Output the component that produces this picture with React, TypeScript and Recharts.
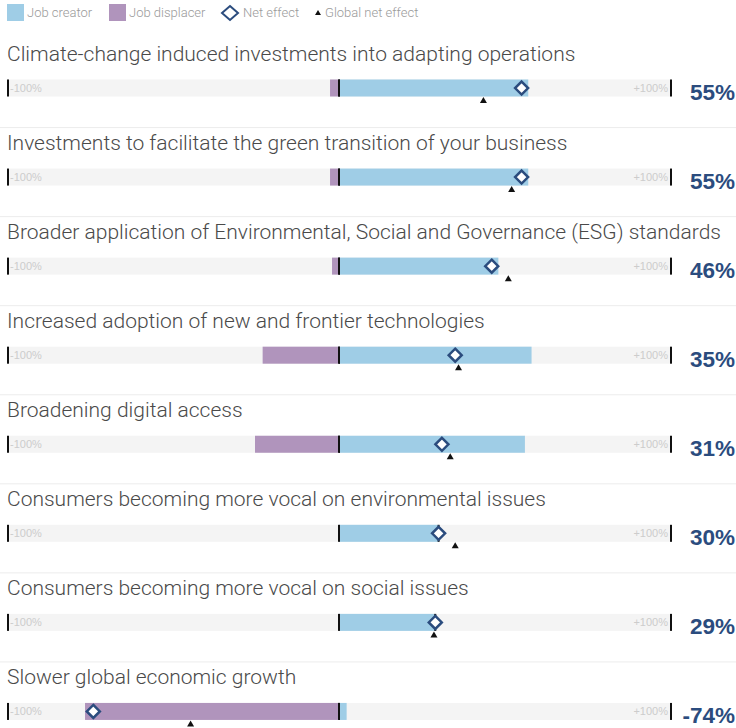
import React from 'react';
import { ComposedChart, Bar, Scatter, XAxis, YAxis, Legend } from 'recharts';

const drivers = [
  'Climate-change induced investments into adapting operations',
  'Investments to facilitate the green transition of your business',
  'Broader application of Environmental, Social and Governance (ESG) standards',
  'Increased adoption of new and frontier technologies',
  'Broadening digital access',
  'Consumers becoming more vocal on environmental issues',
  'Consumers becoming more vocal on social issues',
  'Slower global economic growth',
];
const jobCreator = [57, 57, 48, 58, 56, 30, 29, 2.3];
const jobDisplacer = [-2.7, -2.7, -2.1, -23, -25.3, 0, 0, -76.5];
const netEffect = [55, 55, 46, 35, 31, 30, 29, -74];
const globalNetEffect = [43.5, 52, 51, 36, 33.5, 35, 28.6, -44.7];
const netLabels = ['55%', '55%', '46%', '35%', '31%', '30%', '29%', '-74%'];
const axisLabels = ['-100%', '+100%'];
const legendLabels = ['Job creator', 'Job displacer', 'Net effect', 'Global net effect'];

const data = drivers.map((name, i) => ({
  name,
  creator: jobCreator[i],
  displacer: jobDisplacer[i],
  net: netEffect[i],
  global: globalNetEffect[i],
}));

const CREATOR = '#9fcde6';
const DISPLACER = '#b094bc';
const NAVY = '#2b4c7e';
const TRACK = '#f4f4f4';
const TITLE_FONT = 'Roboto, "Liberation Sans", sans-serif';

const TrackShape = (props: any) => {
  const { x, y, width, height, index } = props;
  const cy = y + height / 2;
  return (
    <g>
      {index > 0 && <line x1={0} x2={736} y1={cy - 49.5} y2={cy - 49.5} stroke="#ececec" strokeWidth={1} />}
      <text x={7} y={cy - 27} fontSize={21} fontFamily={TITLE_FONT} fontWeight={300} fill="#4a4a4a">
        {drivers[index]}
      </text>
      <rect x={x} y={y} width={width} height={height} fill={TRACK} />
      <rect x={x} y={y} width={2} height={height} fill="#111" />
      <rect x={x + width - 1} y={y} width={2} height={height} fill="#111" />
      <text x={x + 3} y={cy + 4} fontSize={11} fontFamily="Liberation Sans, sans-serif" fill="#cccccc">
        {axisLabels[0]}
      </text>
      <text x={x + width - 3} y={cy + 4} fontSize={11} textAnchor="end" fontFamily="Liberation Sans, sans-serif" fill="#cccccc">
        {axisLabels[1]}
      </text>
      <text x={735} y={cy + 12} fontSize={22.5} fontWeight={700} textAnchor="end" fontFamily="Liberation Sans, sans-serif" fill={NAVY}>
        {netLabels[index]}
      </text>
    </g>
  );
};

const CreatorShape = (props: any) => {
  const { x, y, width, height } = props;
  return (
    <g>
      <rect x={x} y={y} width={width} height={height} fill={CREATOR} />
      <rect x={x - 1} y={y} width={2} height={height} fill="#111" />
    </g>
  );
};

const DisplacerShape = (props: any) => {
  const { x, y, width, height } = props;
  const left = Math.min(x, x + width);
  const w = Math.abs(width);
  return (
    <g>
      <rect x={left} y={y} width={w} height={height} fill={DISPLACER} />
      <rect x={left + w - 1} y={y} width={2} height={height} fill="#111" />
    </g>
  );
};

const Diamond = (props: any) => {
  const { cx, cy } = props;
  if (cx == null || cy == null) return null;
  const r = 6.5;
  return (
    <polygon
      points={`${cx},${cy - r} ${cx + r},${cy} ${cx},${cy + r} ${cx - r},${cy}`}
      fill="#fff"
      stroke={NAVY}
      strokeWidth={2.5}
    />
  );
};

const Triangle = (props: any) => {
  const { cx, cy } = props;
  if (cx == null || cy == null) return null;
  return <polygon points={`${cx},${cy + 9} ${cx + 3.5},${cy + 15} ${cx - 3.5},${cy + 15}`} fill="#111" />;
};

const LegendContent = () => {
  const textStyle: React.CSSProperties = { fontSize: 13, fontFamily: TITLE_FONT, fontWeight: 300 };
  return (
    <svg width={736} height={26} style={{ display: 'block' }}>
      <rect x={7} y={4} width={17} height={17} fill={CREATOR} />
      <text x={27} y={17} style={textStyle as any} fill="#9a9a9a">{legendLabels[0]}</text>
      <rect x={109} y={4} width={17} height={17} fill={DISPLACER} />
      <text x={129} y={17} style={textStyle as any} fill="#9a9a9a">{legendLabels[1]}</text>
      <polygon points="230,6 238,13 230,20 222,13" fill="#fff" stroke={NAVY} strokeWidth={2} />
      <text x={243} y={17} style={textStyle as any} fill="#9a9a9a">{legendLabels[2]}</text>
      <polygon points="318,10 321,15 315,15" fill="#111" />
      <text x={325} y={17} style={textStyle as any} fill="#9a9a9a">{legendLabels[3]}</text>
    </svg>
  );
};

export default function App() {
  return (
    <div style={{ position: 'absolute', left: 0, top: 0, width: 736, height: 728, overflow: 'hidden', background: '#fff' }}>
      <ComposedChart
        width={736}
        height={756}
        data={data}
        layout="vertical"
        stackOffset="sign"
        margin={{ top: 17.5, right: 65, bottom: 0, left: 7 }}
      >
        <XAxis type="number" domain={[-100, 100]} hide allowDataOverflow />
        <YAxis type="category" dataKey="name" hide />
        <Legend
          verticalAlign="top"
          align="left"
          content={LegendContent}
          wrapperStyle={{ top: 0, left: 0, width: 736, height: 26 }}
        />
        <Bar
          dataKey="creator"
          stackId="s"
          barSize={17}
          fill={CREATOR}
          shape={CreatorShape}
          background={TrackShape}
          isAnimationActive={false}
        />
        <Bar dataKey="displacer" stackId="s" barSize={17} fill={DISPLACER} shape={DisplacerShape} isAnimationActive={false} />
        <Scatter dataKey="global" shape={Triangle} isAnimationActive={false} />
        <Scatter dataKey="net" shape={Diamond} isAnimationActive={false} />
      </ComposedChart>
    </div>
  );
}
